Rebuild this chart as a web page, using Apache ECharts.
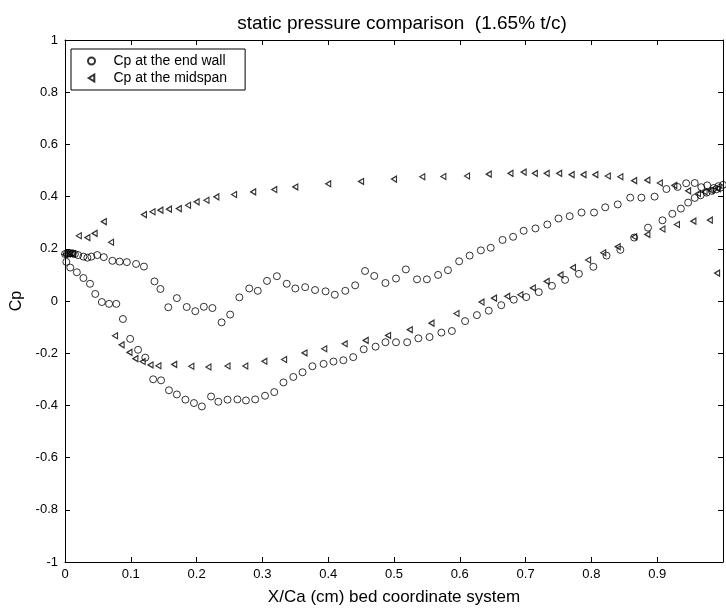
<!DOCTYPE html>
<html>
<head>
<meta charset="utf-8">
<script src="https://cdn.jsdelivr.net/npm/echarts@6/dist/echarts.min.js"></script>
<style>
html,body{margin:0;padding:0;background:#fff;}
#chart{width:726px;height:611px;}
</style>
</head>
<body>
<div id="chart"></div>
<script>
// ---- data ----
var endWallX = [
  0.000, 0.003, 0.006, 0.009, 0.012, 0.015,
  0.020, 0.028, 0.034, 0.040, 0.049, 0.059, 0.072, 0.083, 0.094, 0.108, 0.120,
  0.136, 0.145, 0.157, 0.170, 0.185, 0.198, 0.211, 0.224, 0.238, 0.251, 0.265, 0.280,
  0.293, 0.307, 0.322, 0.337, 0.350, 0.365, 0.380, 0.396, 0.410, 0.426, 0.441, 0.456,
  0.470, 0.487, 0.503, 0.518, 0.535, 0.550, 0.567, 0.582, 0.599, 0.615, 0.632, 0.647,
  0.665, 0.681, 0.697, 0.715, 0.733, 0.750, 0.767, 0.785, 0.804, 0.821, 0.840, 0.859,
  0.876, 0.896, 0.914, 0.931, 0.944, 0.957, 0.967, 0.976, 0.986, 0.993, 1.000,
  0.002, 0.008, 0.018, 0.028, 0.038, 0.046, 0.056, 0.067, 0.078, 0.088, 0.099, 0.111,
  0.122, 0.134, 0.146, 0.158, 0.170, 0.183, 0.196, 0.208, 0.222, 0.233, 0.247, 0.262,
  0.275, 0.289, 0.304, 0.318, 0.332, 0.347, 0.361, 0.376, 0.393, 0.408, 0.423, 0.438,
  0.454, 0.472, 0.487, 0.503, 0.520, 0.537, 0.554, 0.572, 0.588, 0.608, 0.626, 0.644,
  0.663, 0.682, 0.701, 0.720, 0.740, 0.760, 0.781, 0.803, 0.823, 0.844, 0.865, 0.886,
  0.908, 0.923, 0.936, 0.947, 0.957, 0.966, 0.975, 0.983, 0.990, 0.996
];
var endWallY = [
  0.180, 0.181, 0.183, 0.183, 0.182, 0.180,
  0.176, 0.170, 0.166, 0.170, 0.176, 0.168, 0.154, 0.151, 0.149, 0.142, 0.132,
  0.075, 0.046, -0.024, 0.011, -0.023, -0.039, -0.022, -0.027, -0.082, -0.052, 0.014, 0.048,
  0.039, 0.077, 0.095, 0.066, 0.048, 0.053, 0.042, 0.037, 0.024, 0.039, 0.060, 0.115,
  0.096, 0.069, 0.086, 0.121, 0.083, 0.083, 0.100, 0.118, 0.152, 0.174, 0.194, 0.204,
  0.234, 0.246, 0.269, 0.278, 0.293, 0.316, 0.325, 0.339, 0.339, 0.359, 0.370, 0.396,
  0.396, 0.400, 0.429, 0.437, 0.451, 0.452, 0.436, 0.443, 0.433, 0.440, 0.445,
  0.150, 0.128, 0.110, 0.088, 0.066, 0.027, -0.004, -0.011, -0.011, -0.069, -0.145, -0.187,
  -0.217, -0.300, -0.304, -0.342, -0.358, -0.378, -0.391, -0.404, -0.366, -0.386, -0.378, -0.377,
  -0.381, -0.377, -0.363, -0.349, -0.312, -0.291, -0.273, -0.250, -0.241, -0.232, -0.227, -0.215,
  -0.185, -0.175, -0.158, -0.158, -0.158, -0.143, -0.138, -0.121, -0.115, -0.077, -0.054, -0.037,
  -0.016, 0.005, 0.015, 0.034, 0.058, 0.081, 0.104, 0.131, 0.174, 0.196, 0.243, 0.281,
  0.309, 0.334, 0.354, 0.377, 0.395, 0.405, 0.415, 0.422, 0.428, 0.434
];
var midspanX = [
  0.000, 0.004, 0.008, 0.012,
  0.021, 0.034, 0.045, 0.059, 0.070, 0.120, 0.133, 0.145, 0.158, 0.173, 0.187, 0.200,
  0.215, 0.230, 0.257, 0.286, 0.318, 0.350, 0.400, 0.450, 0.500, 0.543, 0.575, 0.611,
  0.644, 0.677, 0.697, 0.714, 0.732, 0.751, 0.770, 0.788, 0.806, 0.825, 0.844, 0.865,
  0.885, 0.904, 0.926, 0.947, 0.962, 0.972, 0.982, 0.992,
  0.076, 0.086, 0.098, 0.107, 0.118, 0.130, 0.142, 0.166, 0.192, 0.218, 0.247, 0.274,
  0.303, 0.333, 0.364, 0.394, 0.425, 0.457, 0.491, 0.524, 0.557, 0.595, 0.633, 0.652,
  0.672, 0.692, 0.711, 0.732, 0.753, 0.772, 0.795, 0.818, 0.840, 0.865, 0.885, 0.908,
  0.930, 0.955, 0.980, 0.991
];
var midspanY = [
  0.178, 0.180, 0.182, 0.181,
  0.250, 0.243, 0.259, 0.304, 0.225, 0.331, 0.342, 0.348, 0.352, 0.354, 0.367, 0.380,
  0.386, 0.399, 0.408, 0.418, 0.427, 0.437, 0.449, 0.458, 0.467, 0.476, 0.477, 0.479,
  0.486, 0.489, 0.494, 0.489, 0.489, 0.489, 0.484, 0.484, 0.484, 0.479, 0.476, 0.461,
  0.463, 0.452, 0.443, 0.422, 0.412, 0.418, 0.424, 0.430,
  -0.133, -0.168, -0.197, -0.221, -0.232, -0.245, -0.248, -0.243, -0.250, -0.253, -0.249, -0.249,
  -0.231, -0.224, -0.199, -0.183, -0.164, -0.151, -0.132, -0.110, -0.085, -0.048, -0.004, 0.011,
  0.018, 0.024, 0.050, 0.075, 0.100, 0.128, 0.157, 0.185, 0.208, 0.246, 0.255, 0.276,
  0.293, 0.306, 0.310, 0.107
];
var xTicks = [0, 0.1, 0.2, 0.3, 0.4, 0.5, 0.6, 0.7, 0.8, 0.9];
var seriesNames = ['Cp at the end wall', 'Cp at the midspan'];

function pairs(xs, ys) {
  var out = [];
  for (var i = 0; i < xs.length; i++) out.push([xs[i], ys[i]]);
  return out;
}

var FONT = "'Liberation Sans', Arial, sans-serif";
var chart = echarts.init(document.getElementById('chart'), null, {renderer: 'canvas'});
var tickStyle = {show: true, inside: true, length: 5, lineStyle: {color: '#000', width: 1}};
var lineStyle = {show: true, onZero: false, lineStyle: {color: '#000', width: 1}};

chart.setOption({
  animation: false,
  backgroundColor: '#fff',
  title: {
    text: 'static pressure comparison  (1.65% t/c)',
    left: 397, top: 9, textAlign: 'center',
    textStyle: {fontFamily: FONT, fontSize: 19, fontWeight: 'normal', color: '#000'}
  },
  grid: {left: 65, right: 1, top: 40, bottom: 47},
  legend: {
    orient: 'vertical',
    left: 71, top: 49,
    data: seriesNames,
    itemWidth: 34, itemHeight: 7, itemGap: 3,
    padding: [5, 18, 5, 16],
    borderColor: '#000', borderWidth: 1,
    backgroundColor: '#fff',
    textStyle: {fontFamily: FONT, fontSize: 14, color: '#000'}
  },
  xAxis: [{
    type: 'value', min: 0, max: 1, interval: 0.1,
    axisLine: lineStyle, axisTick: tickStyle, splitLine: {show: false},
    axisLabel: {
      margin: 6, fontFamily: FONT, fontSize: 13, color: '#000',
      formatter: function (v) {
        for (var i = 0; i < xTicks.length; i++) if (Math.abs(xTicks[i] - v) < 1e-9) return String(xTicks[i]);
        return '';
      }
    },
    name: 'X/Ca (cm) bed coordinate system', nameLocation: 'middle', nameGap: 27,
    nameTextStyle: {fontFamily: FONT, fontSize: 17, color: '#000'}
  }, {
    type: 'value', position: 'top', min: 0, max: 1, interval: 0.1,
    axisLine: lineStyle, axisTick: tickStyle, axisLabel: {show: false}, splitLine: {show: false}
  }],
  yAxis: [{
    type: 'value', min: -1, max: 1, interval: 0.2,
    axisLine: lineStyle, axisTick: tickStyle, splitLine: {show: false},
    axisLabel: {
      margin: 7, fontFamily: FONT, fontSize: 13, color: '#000',
      formatter: function (v) { return String(Math.round(v * 10) / 10); }
    },
    name: 'Cp', nameLocation: 'middle', nameGap: 36, nameRotate: 90,
    nameTextStyle: {fontFamily: FONT, fontSize: 16, color: '#000'}
  }, {
    type: 'value', position: 'right', min: -1, max: 1, interval: 0.2,
    axisLine: lineStyle, axisTick: tickStyle, axisLabel: {show: false}, splitLine: {show: false}
  }],
  series: [{
    name: seriesNames[0], type: 'scatter',
    data: pairs(endWallX, endWallY),
    symbol: 'circle', symbolSize: 7,
    itemStyle: {color: 'rgba(0,0,0,0)', borderColor: '#000', borderWidth: 1}
  }, {
    name: seriesNames[1], type: 'scatter',
    data: pairs(midspanX, midspanY),
    symbol: 'path://M0,5 L8,0 L8,10 Z', symbolSize: [5, 6],
    itemStyle: {color: 'rgba(0,0,0,0)', borderColor: '#000', borderWidth: 1.2}
  }]
});
</script>
</body>
</html>
